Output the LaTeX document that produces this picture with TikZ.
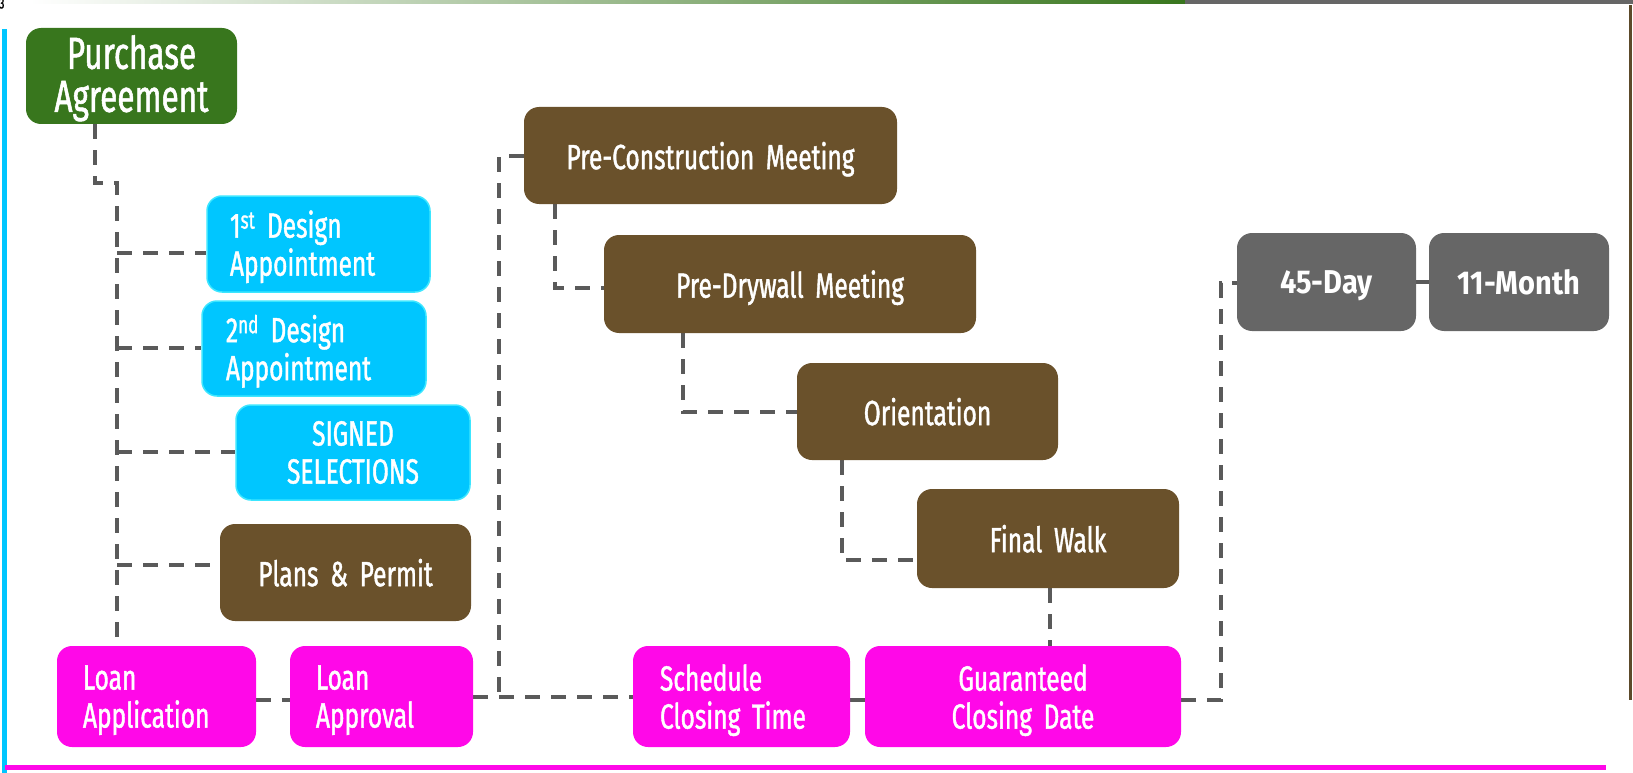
\documentclass[tikz,border=0pt]{standalone}
\usepackage{fontspec}
\usetikzlibrary{backgrounds}
\setmainfont{Fira Sans}[FakeStretch=0.7, FakeBold=1.2, WordSpace=0.7]
\newfontfamily\grayfont{Fira Sans}[FakeStretch=0.88, WordSpace=0.7]
\definecolor{pagreen}{HTML}{38761D}
\definecolor{cyanf}{HTML}{00C6FF}
\definecolor{cyanb}{HTML}{3CE6FF}
\definecolor{brownf}{HTML}{6A512B}
\definecolor{magf}{HTML}{FF08E8}
\definecolor{grayf}{HTML}{666666}
\definecolor{connc}{HTML}{5A5A5A}
\definecolor{rightc}{HTML}{5C4A2A}
\begin{document}
\begin{tikzpicture}[x=1pt,y=-1pt,
  box/.style={rounded corners=15pt, inner ysep=0pt, text=white,
    font=\fontsize{35}{38}\selectfont},
  one/.style={text depth=0pt},
  two/.style={text depth=38pt},
  greenbox/.style={box, fill=pagreen, font=\fontsize{45}{43}\selectfont, text depth=48pt},
  cyanbox/.style={box, fill=cyanf, draw=cyanb, line width=1.5pt},
  brownbox/.style={box, fill=brownf, one},
  magbox/.style={box, fill=magf, two},
  graybox/.style={box, fill=grayf, one, font=\grayfont\fontsize{33}{36}\selectfont\bfseries},
  conn/.style={draw=connc, line width=3.5pt, dash pattern=on 15pt off 11pt}]
\useasboundingbox (0,0) rectangle (1633,773);
% frame lines
\shade[left color=white, right color=pagreen] (30,0) rectangle (1185,3.5);
\fill[grayf] (1185,0) rectangle (1633,4.5);
\fill[cyanf] (1.5,29) rectangle (6.5,773);
\fill[magf] (5,765) rectangle (1606,770);
\fill[rightc] (1629,5) rectangle (1631.5,700);
\node[anchor=north west, inner sep=0pt, font=\fontsize{15}{15}\selectfont] (tl) at (-1,-2) {3};
% nodes
\node[greenbox, minimum width=211, minimum height=96, text width=200, inner xsep=5pt, align=center] (PA) at (131.5,76) {Purchase\\Agreement};
\node[cyanbox, text depth=40pt, minimum width=223, minimum height=96, text width=177, inner xsep=23pt, align=left] (D1) at (318.5,244) {1\textsuperscript{st} Design\\Appointment};
\node[cyanbox, text depth=40pt, minimum width=224, minimum height=95, text width=176, inner xsep=24pt, align=left] (D2) at (314,348.5) {2\textsuperscript{nd} Design\\Appointment};
\node[cyanbox, minimum width=234, minimum height=95, text width=220, inner xsep=7pt, align=center] (SS) at (353,452.5) {SIGNED\\SELECTIONS};
\node[brownbox, minimum width=251, minimum height=97, text width=237, inner xsep=7pt, align=center] (PP) at (345.5,572.5) {Plans \& Permit};
\node[magbox, minimum width=199, minimum height=101, text width=147, inner xsep=26pt, align=left] (LA1) at (156.5,696.5) {Loan\\Application};
\node[magbox, minimum width=183, minimum height=101, text width=131, inner xsep=26pt, align=left] (LA2) at (381.5,696.5) {Loan\\Approval};
\node[magbox, minimum width=217, minimum height=101, text width=163, inner xsep=27pt, align=left] (SC) at (741.5,696.5) {Schedule\\Closing Time};
\node[magbox, minimum width=316, minimum height=101, text width=300, inner xsep=8pt, align=center] (GC) at (1023,696.5) {Guaranteed\\Closing Date};
\node[brownbox, minimum width=373, minimum height=97, text width=357, inner xsep=8pt, align=center] (PC) at (710.5,155.5) {Pre-Construction Meeting};
\node[brownbox, minimum width=372, minimum height=98, text width=356, inner xsep=8pt, align=center] (PD) at (790,284) {Pre-Drywall Meeting};
\node[brownbox, minimum width=261, minimum height=97, text width=245, inner xsep=8pt, align=center] (OR) at (927.5,411.5) {Orientation};
\node[brownbox, minimum width=262, minimum height=99, text width=246, inner xsep=8pt, align=center] (FW) at (1048,538.5) {Final Walk};
\node[graybox, minimum width=179, minimum height=98, text width=163, inner xsep=8pt, align=center] (D45) at (1326.5,282) {45-Day};
\node[graybox, minimum width=180, minimum height=98, text width=164, inner xsep=8pt, align=center] (M11) at (1519,282) {11-Month};
% bend coordinates
\coordinate (b1) at (95,183);
\coordinate (b2) at (117,183);
\coordinate (y1) at (0,253);
\coordinate (y2) at (0,348);
\coordinate (y3) at (0,452);
\coordinate (y4) at (0,565);
\coordinate (ylo) at (0,700);
\coordinate (ymid) at (0,697);
\coordinate (v1) at (499,156);
\coordinate (v2) at (555,288);
\coordinate (v3) at (683,412);
\coordinate (v4) at (842,560);
\coordinate (v5) at (1050,0);
\coordinate (v6) at (1221,283);
% connectors
\begin{scope}[on background layer]
\draw[conn] (PA.south -| b1) -- (b1) -- (b2) -- (b2 |- LA1.north);
\draw[conn] (b2 |- y1) -- (D1.west |- y1);
\draw[conn] (b2 |- y2) -- (D2.west |- y2);
\draw[conn] (b2 |- y3) -- (SS.west |- y3);
\draw[conn] (b2 |- y4) -- (PP.west |- y4);
\draw[conn] (LA1.east |- ylo) -- (LA2.west |- ylo);
\draw[conn] (LA2.east |- ymid) -- (SC.west |- ymid);
\draw[conn] (PC.west |- v1) -- (v1) -- (v1 |- ymid);
\draw[conn] (PC.south -| v2) -- (v2) -- (PD.west |- v2);
\draw[conn] (PD.south -| v3) -- (v3) -- (OR.west |- v3);
\draw[conn] (OR.south -| v4) -- (v4) -- (FW.west |- v4);
\draw[conn] (FW.south -| v5) -- (GC.north -| v5);
\draw[conn] (SC.east |- ylo) -- (GC.west |- ylo);
\draw[conn] (GC.east |- ylo) -- (v6 |- ylo) -- (v6) -- (D45.west |- v6);
\draw[conn] (D45.east) -- (M11.west);
\end{scope}
\end{tikzpicture}
\end{document}
